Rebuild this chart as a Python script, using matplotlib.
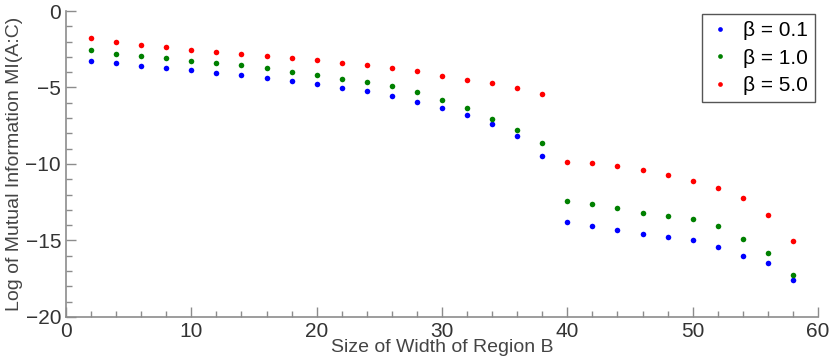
import matplotlib
matplotlib.use("Agg")
import matplotlib.pyplot as plt
import numpy as np

# Daten
breite = np.arange(2, 60, 2)
mi_b01 = [-3.25, -3.42, -3.57, -3.73, -3.88, -4.03, -4.18, -4.38, -4.58, -4.79,
          -5.03, -5.25, -5.56, -5.93, -6.32, -6.82, -7.41, -8.19, -9.48, -13.81,
          -14.07, -14.31, -14.55, -14.75, -14.97, -15.45, -16.01, -16.45, -17.6]
mi_b10 = [-2.57, -2.79, -2.94, -3.09, -3.25, -3.40, -3.55, -3.75, -3.99, -4.2,
          -4.44, -4.66, -4.92, -5.32, -5.8, -6.36, -7.08, -7.8, -8.65, -12.44,
          -12.59, -12.9, -13.2, -13.38, -13.58, -14.05, -14.88, -15.84, -17.24]
mi_b50 = [-1.76, -2.0, -2.2, -2.37, -2.53, -2.66, -2.79, -2.92, -3.05, -3.2,
          -3.38, -3.53, -3.73, -3.9, -4.25, -4.53, -4.71, -5.03, -5.45, -9.87,
          -9.96, -10.13, -10.37, -10.7, -11.09, -11.55, -12.2, -13.35, -15.05]
labels = ["β = 0.1", "β = 1.0", "β = 5.0"]
farben = ["#0000ff", "#008000", "#ff0000"]

plt.rcParams['font.family'] = ['Liberation Sans', 'DejaVu Sans']

fig = plt.figure(figsize=(8.3, 3.61), dpi=100)
ax = fig.add_axes([0.0795, 0.122, 0.906, 0.8475])

for werte, lab, c in zip([mi_b01, mi_b10, mi_b50], labels, farben):
    ax.plot(breite, werte, 'o', color=c, markersize=4, markeredgewidth=0, label=lab)

ax.set_xlim(0, 60)
ax.set_ylim(-20, 0)
ax.set_xticks(np.arange(0, 61, 10))
ax.set_yticks(np.arange(-20, 1, 5))
ax.set_xticks(np.arange(0, 61, 2), minor=True)
ax.set_yticks(np.arange(-20, 1, 1), minor=True)

grau = "#8c8c8c"
for s in ['top', 'right']:
    ax.spines[s].set_visible(False)
for s in ['left', 'bottom']:
    ax.spines[s].set_color(grau)
    ax.spines[s].set_linewidth(1.2)
ax.tick_params(which='both', direction='in', colors=grau, labelcolor='#333333', labelsize=15)
ax.tick_params(which='major', length=7, width=1)
ax.tick_params(which='minor', length=4, width=1)

ax.set_xlabel("Size of Width of Region B", fontsize=14, color='#444444', labelpad=-1)
ax.set_ylabel("Log of Mutual Information MI(A:C)", fontsize=14, color='#444444', labelpad=2)

leg = ax.legend(loc='upper right', fontsize=15, markerscale=0.85, handletextpad=0.6,
                borderpad=0.35, labelspacing=0.4, fancybox=False, framealpha=1,
                handlelength=1.0, borderaxespad=0, bbox_to_anchor=(0.996, 0.99))
leg.get_frame().set_edgecolor('#555555')

fig.savefig("out.png", dpi=100)
